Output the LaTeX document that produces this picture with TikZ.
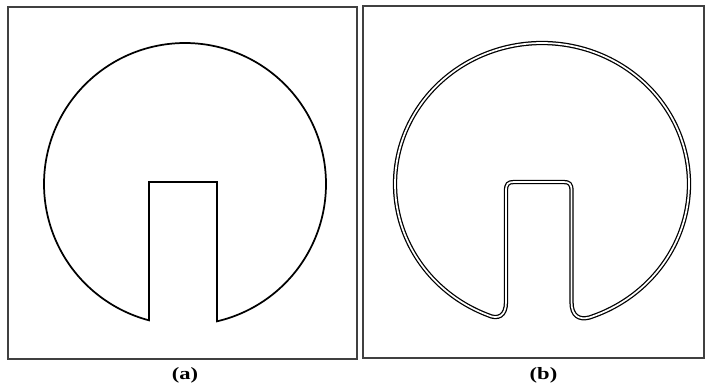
\documentclass[tikz,border=0pt]{standalone}
\usepackage{fontspec}
\setmainfont{Liberation Serif}
\tikzset{
  frame/.style={draw=black!75,line width=0.9pt},
  outlinea/.style={draw=black,line width=1.3pt,line join=miter},
  outlineb/.style={draw=black,line width=0.95pt,double=white,double distance=1.3pt},
  caption/.style={font=\fontsize{13}{15}\selectfont\bfseries,inner sep=0pt}
}
\begin{document}
\begin{tikzpicture}[x=0.75pt,y=-0.75pt]
\useasboundingbox (0,0) rectangle (705,386);
% frames
\draw[frame] (8,7) rectangle (357,359);
\draw[frame] (363,6) rectangle (704,358);
% panel (a)
\coordinate (aTL) at (149,182);
\coordinate (aTR) at (217,182);
\coordinate (aBR) at (217,320.3);
\coordinate (aBL) at (149,320.3);
\draw[outlinea] (aBL) -- (aTL) -- (aTR) -- (aBR)
  -- plot[domain=0:1,samples=240,variable=\s]
     ({185+141*cos(76.9-332.1*\s)},{184+141*sin(76.9-332.1*\s)})
  -- cycle;
% panel (b)
\coordinate (bL) at (488,315.2);
\coordinate (bR) at (589,317.6);
\draw[outlineb]
  plot[domain=0:1,samples=240,variable=\s]
     ({542+147*cos(71.3-319.8*\s)},{184+141*sin(71.3-319.8*\s)})
  .. controls (498,320) and (506,316) .. (506,302)
  -- (506,191) .. controls (506,184) and (508,182) .. (514,182)
  -- (563.5,182) .. controls (569.5,182) and (571.5,184) .. (571.5,191)
  -- (571.5,302) .. controls (571.5,316) and (579,320) .. (bR)
  -- cycle;
% captions
\node[caption] (capa) at (185,375) {\scalebox{1.3}[1]{(a)}};
\node[caption] (capb) at (543.5,375) {\scalebox{1.3}[1]{(b)}};
\end{tikzpicture}
\end{document}
